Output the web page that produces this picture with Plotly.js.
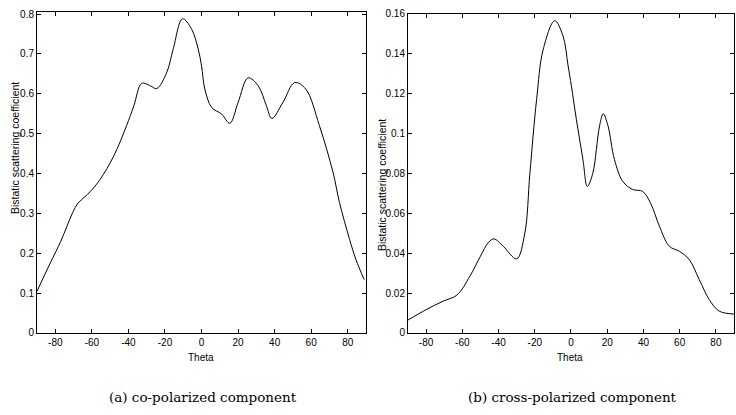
<!DOCTYPE html>
<html>
<head>
<meta charset="utf-8">
<script src="https://cdn.plot.ly/plotly-3.0.1.min.js"></script>
<style>html,body{margin:0;padding:0;background:#fff}#chart{width:736px;height:415px}</style>
</head>
<body>
<div id="chart"></div>
<script>
// Co-polarized component
const coTheta = [-90,-82.7,-77,-73.6,-70.5,-67.5,-64,-61,-55.5,-48,-41,-37,-32.7,-28,-24.5,-19,-15.5,-10.4,-5.5,-1.8,0,1.8,5.5,11,15.5,20,25.5,31,35.5,38.5,44.5,51,57,64.5,72,75.5,81,84.5,89];
const coVal   = [0.105,0.176,0.23,0.268,0.302,0.326,0.341,0.354,0.385,0.444,0.52,0.57,0.626,0.62,0.613,0.654,0.712,0.788,0.763,0.712,0.67,0.612,0.566,0.549,0.526,0.578,0.640,0.62,0.57,0.538,0.578,0.628,0.612,0.52,0.402,0.327,0.235,0.184,0.134];
// Cross-polarized component
const crTheta = [-90,-80,-70.5,-63,-55.8,-50,-45.5,-42.5,-37.4,-30,-25.5,-22.7,-19,-15.4,-9,-4.4,-1.6,0.2,3,6.6,9,12,15.8,17.8,20.4,24,28.6,34,39.6,44,48.8,54.3,59.8,65.3,70.8,76.3,81.8,90];
const crVal   = [0.0065,0.0117,0.016,0.019,0.0285,0.0385,0.0455,0.0472,0.0435,0.0372,0.05,0.08,0.117,0.142,0.1566,0.149,0.134,0.124,0.107,0.087,0.0735,0.08,0.104,0.110,0.104,0.087,0.076,0.072,0.071,0.065,0.0536,0.0435,0.041,0.0368,0.0268,0.0168,0.011,0.0095];

const xTicks = [-80,-60,-40,-20,0,20,40,60,80];
const yTicksA = [0,0.1,0.2,0.3,0.4,0.5,0.6,0.7,0.8];
const yLabelsA = ['0','0.1','0.2','0.3','0.4','0.5','0.6','0.7','0.8'];
const yTicksB = [0,0.02,0.04,0.06,0.08,0.1,0.12,0.14,0.16];
const yLabelsB = ['0','0.02','0.04','0.06','0.08','0.1','0.12','0.14','0.16'];

const tickFont = {family:'Liberation Sans, Arial, sans-serif', size:10, color:'#000'};
const titleFont = {family:'Liberation Sans, Arial, sans-serif', size:10.5, color:'#000'};
const capFont = {family:'DejaVu Serif, Liberation Serif, serif', size:13.5, color:'#000'};
const baseAxis = {
  showline:true, mirror:'ticks', linecolor:'#000', linewidth:1,
  ticks:'inside', ticklen:4, tickcolor:'#000', tickwidth:1,
  showgrid:false, zeroline:false, tickfont:tickFont, fixedrange:true
};

const traces = [
  {x:coTheta, y:coVal, type:'scatter', mode:'lines', line:{color:'#000', width:1, shape:'spline', smoothing:1}, xaxis:'x', yaxis:'y', hoverinfo:'skip'},
  {x:crTheta, y:crVal, type:'scatter', mode:'lines', line:{color:'#000', width:1, shape:'spline', smoothing:1}, xaxis:'x2', yaxis:'y2', hoverinfo:'skip'}
];

const layout = {
  width:736, height:415,
  margin:{l:0,r:0,t:0,b:0},
  paper_bgcolor:'#fff', plot_bgcolor:'#fff',
  showlegend:false,
  xaxis:Object.assign({}, baseAxis, {domain:[0.0503,0.4973], range:[-90,90], tickvals:xTicks, ticktext:xTicks.map(String), anchor:'y'}),
  yaxis:Object.assign({}, baseAxis, {domain:[0.1976,0.971], range:[0,0.805], tickvals:yTicksA, ticktext:yLabelsA, anchor:'x'}),
  xaxis2:Object.assign({}, baseAxis, {domain:[0.5543,0.9973], range:[-90,90], tickvals:xTicks, ticktext:xTicks.map(String), anchor:'y2'}),
  yaxis2:Object.assign({}, baseAxis, {domain:[0.1976,0.9663], range:[0,0.16], tickvals:yTicksB, ticktext:yLabelsB, anchor:'x2'}),
  annotations:[
    {text:'Theta', xref:'paper', yref:'paper', x:201/736, y:1-357/415, showarrow:false, font:tickFont, xanchor:'center', yanchor:'middle'},
    {text:'Theta', xref:'paper', yref:'paper', x:570/736, y:1-357/415, showarrow:false, font:tickFont, xanchor:'center', yanchor:'middle'},
    {text:'Bistatic scattering coefficient', xref:'paper', yref:'paper', x:15/736, y:1-148/415, textangle:-90, showarrow:false, font:titleFont, xanchor:'center', yanchor:'middle'},
    {text:'Bistatic scattering coefficient', xref:'paper', yref:'paper', x:382/736, y:1-185/415, textangle:-90, showarrow:false, font:titleFont, xanchor:'center', yanchor:'middle'},
    {text:'(a) co-polarized component', xref:'paper', yref:'paper', x:203/736, y:1-397/415, showarrow:false, font:capFont, xanchor:'center', yanchor:'middle'},
    {text:'(b) cross-polarized component', xref:'paper', yref:'paper', x:572/736, y:1-397/415, showarrow:false, font:capFont, xanchor:'center', yanchor:'middle'}
  ]
};

Plotly.newPlot('chart', traces, layout, {staticPlot:true, displayModeBar:false});
</script>
</body>
</html>
